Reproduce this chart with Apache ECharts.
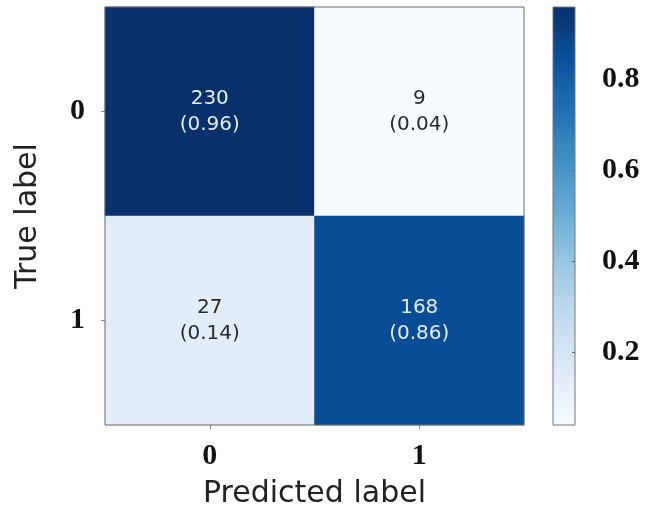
<!DOCTYPE html>
<html>
<head>
<meta charset="utf-8">
<script src="https://cdn.jsdelivr.net/npm/echarts@6/dist/echarts.min.js"></script>
<style>html,body{margin:0;padding:0;background:#fff;}#c{width:657px;height:509px;}</style>
</head>
<body>
<div id="c"></div>
<script>
const predictedLabels = ['0', '1'];
const trueLabels = ['0', '1'];
const counts = [[230, 9], [27, 168]];
const rates = [[0.96, 0.04], [0.14, 0.86]];
const colorbarTicks = [0.2, 0.4, 0.6, 0.8];
const colorMin = 0.04;
const colorMax = 0.96;

const blues = ['#f7fbff', '#deebf7', '#c6dbef', '#9ecae1', '#6baed6', '#4292c6', '#2171b5', '#08519c', '#08306b'];

const data = [];
for (let i = 0; i < trueLabels.length; i++) {
  for (let j = 0; j < predictedLabels.length; j++) {
    data.push({
      value: [j, i, rates[i][j]],
      count: counts[i][j],
      label: { color: rates[i][j] > 0.5 ? '#e4ecf5' : '#2a2a2a' }
    });
  }
}

const gradStops = blues.map((c, k) => ({ offset: 1 - k / (blues.length - 1), color: c }));

const chart = echarts.init(document.getElementById('c'), null, { renderer: 'canvas' });
const tickFont = { fontFamily: 'Liberation Serif', fontWeight: 'bold', fontSize: 30, color: '#111' };
chart.setOption({
  animation: false,
  backgroundColor: '#ffffff',
  grid: [
    { left: 105, top: 7, width: 419, height: 418, outerBoundsMode: 'none', containLabel: false,
      show: true, borderColor: '#666', borderWidth: 1, backgroundColor: 'transparent', z: 3 },
    { left: 553, top: 7, width: 22, height: 418, outerBoundsMode: 'none', containLabel: false,
      show: true, borderColor: '#777', borderWidth: 1,
      backgroundColor: new echarts.graphic.LinearGradient(0, 0, 0, 1, gradStops) }
  ],
  xAxis: [
    { type: 'category', gridIndex: 0, data: predictedLabels, position: 'bottom',
      axisLine: { show: false }, splitLine: { show: false },
      axisTick: { show: true, alignWithLabel: true, length: 4, lineStyle: { color: '#888' } },
      axisLabel: Object.assign({ margin: 16 }, tickFont),
      name: 'Predicted label', nameLocation: 'middle', nameGap: 54,
      nameTextStyle: { fontFamily: 'DejaVu Sans', fontSize: 30, color: '#222', verticalAlign: 'top' } },
    { type: 'category', gridIndex: 1, data: ['c'], show: false }
  ],
  yAxis: [
    { type: 'category', gridIndex: 0, data: trueLabels, inverse: true,
      axisLine: { show: false }, splitLine: { show: false },
      axisTick: { show: true, alignWithLabel: true, length: 4, lineStyle: { color: '#888' } },
      axisLabel: Object.assign({ margin: 20 }, tickFont),
      name: 'True label', nameLocation: 'middle', nameGap: 62, nameRotate: 90,
      nameTextStyle: { fontFamily: 'DejaVu Sans', fontSize: 30, color: '#222' } },
    { type: 'value', gridIndex: 1, min: colorMin, max: colorMax, position: 'right',
      axisLine: { show: false }, splitLine: { show: false },
      axisTick: { show: true, length: 3, inside: true, customValues: colorbarTicks, lineStyle: { color: '#666' } },
      axisLabel: Object.assign({ margin: 27, customValues: colorbarTicks, formatter: v => v.toFixed(1) }, tickFont) }
  ],
  visualMap: {
    show: false, type: 'continuous', min: colorMin, max: colorMax, dimension: 2, seriesIndex: 0,
    inRange: { color: blues }
  },
  series: [{
    type: 'heatmap', xAxisIndex: 0, yAxisIndex: 0, data: data,
    label: {
      show: true, fontFamily: 'DejaVu Sans', fontSize: 20, lineHeight: 26,
      formatter: p => p.data.count + '\n(' + p.data.value[2].toFixed(2) + ')'
    },
    itemStyle: { borderWidth: 0 }
  }]
});
</script>
</body>
</html>
